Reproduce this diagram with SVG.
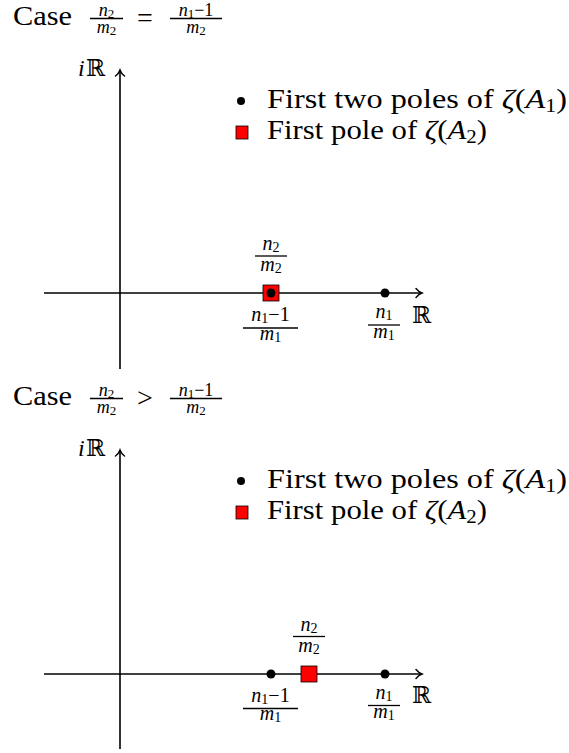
<svg xmlns="http://www.w3.org/2000/svg" width="569" height="753" viewBox="0 0 569 753">
<style>
text{font-family:"Liberation Serif","DejaVu Serif","Times New Roman",serif;fill:#000}
.t{font-size:28px}
.m{font-style:italic;font-size:20px;text-anchor:middle}
.mt{font-style:italic;font-size:18px;text-anchor:middle}
.s{font-style:normal;font-size:14px}
.st{font-style:normal;font-size:13px}
.up{font-style:normal}
.it{font-style:italic}
.r{font-family:"DejaVu Serif",serif;font-size:23px}
.ax{stroke:#000;stroke-width:1.6;fill:none}
.bar{stroke:#000;stroke-width:1.3}
.dot{fill:#000}
.sq{fill:#f00;stroke:#000;stroke-width:0.8}
</style>
<defs>
<marker id="arr" viewBox="-8 -6 10 12" markerWidth="10" markerHeight="12" refX="0" refY="0" orient="auto" markerUnits="userSpaceOnUse">
<path d="M-6,-4.5 C-4,-2 -1.5,-0.5 0,0 C-1.5,0.5 -4,2 -6,4.5" fill="none" stroke="#000" stroke-width="1.4" stroke-linecap="round"/>
</marker>
</defs>

<!-- ===== Case 1 ===== -->
<g id="title1">
<text class="t" x="13" y="25" textLength="59" lengthAdjust="spacingAndGlyphs">Case</text>
<text class="mt" x="106.5" y="15.5">n<tspan class="st" dy="2">2</tspan></text>
<line class="bar" x1="90" y1="18.5" x2="123" y2="18.5"/>
<text class="mt" x="106.5" y="33">m<tspan class="st" dy="2">2</tspan></text>
<text class="t" x="145" y="27" style="text-anchor:middle">=</text>
<text class="mt" x="196" y="15.5">n<tspan class="st" dy="2">1</tspan><tspan class="up" dy="-2">−1</tspan></text>
<line class="bar" x1="170" y1="18.5" x2="222" y2="18.5"/>
<text class="mt" x="196" y="33">m<tspan class="st" dy="2">2</tspan></text>
</g>
<g id="connectors1">
<line class="ax" x1="120" y1="369" x2="120" y2="70" marker-end="url(#arr)"/>
<line class="ax" x1="44" y1="293" x2="422" y2="293" marker-end="url(#arr)"/>
</g>
<g id="axislabels1">
<text class="t it" x="78" y="76" style="font-size:24px">i</text>
<text class="r" x="86" y="76">ℝ</text>
<text class="r" x="412" y="323">ℝ</text>
</g>
<g id="legend1">
<circle class="dot" cx="241" cy="101" r="4"/>
<text class="t" x="267" y="108" textLength="300" lengthAdjust="spacingAndGlyphs">First two poles of <tspan class="it">ζ</tspan>(<tspan class="it">A</tspan><tspan style="font-size:19px" dy="4">1</tspan><tspan dy="-4">)</tspan></text>
<rect class="sq" x="236" y="126" width="12" height="13"/>
<text class="t" x="267" y="139" textLength="220" lengthAdjust="spacingAndGlyphs">First pole of <tspan class="it">ζ</tspan>(<tspan class="it">A</tspan><tspan style="font-size:19px" dy="4">2</tspan><tspan dy="-4">)</tspan></text>
</g>
<g id="pole-n2m2-1">
<rect class="sq" x="263" y="285" width="16" height="16"/>
<text class="m" x="271" y="250">n<tspan class="s" dy="2">2</tspan></text>
<line class="bar" x1="255" y1="256" x2="287" y2="256"/>
<text class="m" x="271" y="271">m<tspan class="s" dy="2">2</tspan></text>
</g>
<g id="pole-n1m1minus-1">
<circle class="dot" cx="271" cy="293" r="4.5"/>
<text class="m" x="270.5" y="321">n<tspan class="s" dy="2">1</tspan><tspan class="up" dy="-2">−1</tspan></text>
<line class="bar" x1="243" y1="328" x2="298" y2="328"/>
<text class="m" x="270.5" y="340">m<tspan class="s" dy="2">1</tspan></text>
</g>
<g id="pole-n1m1-1">
<circle class="dot" cx="385" cy="293" r="4.5"/>
<text class="m" x="384" y="318">n<tspan class="s" dy="2">1</tspan></text>
<line class="bar" x1="368" y1="325" x2="400" y2="325"/>
<text class="m" x="384" y="338">m<tspan class="s" dy="2">1</tspan></text>
</g>

<!-- ===== Case 2 ===== -->
<g id="title2">
<text class="t" x="13" y="405" textLength="59" lengthAdjust="spacingAndGlyphs">Case</text>
<text class="mt" x="106.5" y="395.5">n<tspan class="st" dy="2">2</tspan></text>
<line class="bar" x1="90" y1="398.5" x2="123" y2="398.5"/>
<text class="mt" x="106.5" y="413">m<tspan class="st" dy="2">2</tspan></text>
<text class="t" x="145" y="407" style="text-anchor:middle">&gt;</text>
<text class="mt" x="196" y="395.5">n<tspan class="st" dy="2">1</tspan><tspan class="up" dy="-2">−1</tspan></text>
<line class="bar" x1="170" y1="398.5" x2="222" y2="398.5"/>
<text class="mt" x="196" y="413">m<tspan class="st" dy="2">2</tspan></text>
</g>
<g id="connectors2">
<line class="ax" x1="120" y1="749" x2="120" y2="450" marker-end="url(#arr)"/>
<line class="ax" x1="44" y1="674" x2="422" y2="674" marker-end="url(#arr)"/>
</g>
<g id="axislabels2">
<text class="t it" x="78" y="456" style="font-size:24px">i</text>
<text class="r" x="86" y="456">ℝ</text>
<text class="r" x="412" y="703">ℝ</text>
</g>
<g id="legend2">
<circle class="dot" cx="241" cy="481" r="4"/>
<text class="t" x="267" y="488" textLength="300" lengthAdjust="spacingAndGlyphs">First two poles of <tspan class="it">ζ</tspan>(<tspan class="it">A</tspan><tspan style="font-size:19px" dy="4">1</tspan><tspan dy="-4">)</tspan></text>
<rect class="sq" x="236" y="506" width="12" height="13"/>
<text class="t" x="267" y="519" textLength="220" lengthAdjust="spacingAndGlyphs">First pole of <tspan class="it">ζ</tspan>(<tspan class="it">A</tspan><tspan style="font-size:19px" dy="4">2</tspan><tspan dy="-4">)</tspan></text>
</g>
<g id="pole-n2m2-2">
<rect class="sq" x="301" y="666" width="16" height="16"/>
<text class="m" x="309" y="631">n<tspan class="s" dy="2">2</tspan></text>
<line class="bar" x1="293" y1="636.5" x2="325" y2="636.5"/>
<text class="m" x="309" y="652">m<tspan class="s" dy="2">2</tspan></text>
</g>
<g id="pole-n1m1minus-2">
<circle class="dot" cx="271" cy="674" r="4.5"/>
<text class="m" x="270.5" y="702">n<tspan class="s" dy="2">1</tspan><tspan class="up" dy="-2">−1</tspan></text>
<line class="bar" x1="243" y1="708.5" x2="298" y2="708.5"/>
<text class="m" x="270.5" y="720">m<tspan class="s" dy="2">1</tspan></text>
</g>
<g id="pole-n1m1-2">
<circle class="dot" cx="385" cy="674" r="4.5"/>
<text class="m" x="384" y="699">n<tspan class="s" dy="2">1</tspan></text>
<line class="bar" x1="368" y1="705.5" x2="400" y2="705.5"/>
<text class="m" x="384" y="718">m<tspan class="s" dy="2">1</tspan></text>
</g>
</svg>
